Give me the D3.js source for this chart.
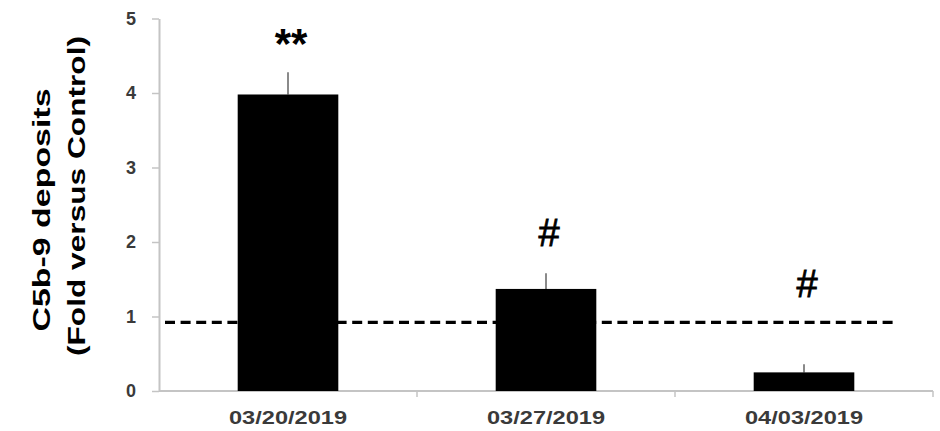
<!DOCTYPE html>
<html>
<head>
<meta charset="utf-8">
<script src="https://cdn.jsdelivr.net/npm/d3@7"></script>
<style>
  html, body { margin: 0; padding: 0; background: #fff; }
  svg { display: block; }
  text { font-family: "Liberation Sans", Arial, sans-serif; }
</style>
</head>
<body>
<svg id="chart" width="940" height="431"></svg>
<script>
// ---- data ----
const categories = ["03/20/2019", "03/27/2019", "04/03/2019"];
const values = [3.98, 1.37, 0.25];
const errors = [0.30, 0.21, 0.11];
const annotations = ["**", "#", "#"];
const annotationLevels = [4.68, 1.94, 1.26];
const yTicks = [0, 1, 2, 3, 4, 5];
const controlLevel = 0.92;
const yLabelLines = ["C5b-9 deposits", "(Fold versus Control)"];

// ---- layout ----
const svg = d3.select("#chart");
const x = d3.scaleBand().domain(categories).range([159, 933])
  .paddingInner(0.61).paddingOuter(0.305);
const y = d3.scaleLinear().domain([0, 5]).range([391, 18.5]);
const axisColor = "#c4c4c4";
const labelColor = "#3a3a3a";

// y axis
const yAxis = svg.append("g").attr("transform", `translate(${x.range()[0]},0)`)
  .call(d3.axisLeft(y).tickValues(yTicks).tickFormat(d3.format("d"))
    .tickSize(7).tickPadding(16).tickSizeOuter(0));
yAxis.select(".domain").attr("stroke", axisColor).attr("stroke-width", 2);
yAxis.selectAll(".tick line").attr("stroke", axisColor).attr("stroke-width", 1.5);
yAxis.selectAll(".tick text").attr("fill", labelColor)
  .style("font-size", "18px").style("font-weight", "bold");

// x axis (line + boundary ticks)
const step = x.step();
const gap = step - x.bandwidth();
const boundaries = categories.map(c => x(c) - gap / 2).concat([x(categories[categories.length - 1]) + x.bandwidth() + gap / 2]);
const xAxisG = svg.append("g");
xAxisG.append("line")
  .attr("x1", x.range()[0]).attr("x2", x.range()[1])
  .attr("y1", y(0)).attr("y2", y(0))
  .attr("stroke", axisColor).attr("stroke-width", 2);
xAxisG.selectAll("line.tk").data(boundaries.slice(1)).join("line")
  .attr("class", "tk")
  .attr("x1", d => d).attr("x2", d => d)
  .attr("y1", y(0)).attr("y2", y(0) + 6)
  .attr("stroke", axisColor).attr("stroke-width", 1.5);
xAxisG.selectAll("text").data(categories).join("text")
  .attr("x", d => x(d) + x.bandwidth() / 2)
  .attr("y", 424)
  .attr("text-anchor", "middle")
  .attr("fill", labelColor)
  .attr("textLength", 118)
  .attr("lengthAdjust", "spacingAndGlyphs")
  .style("font-size", "18px").style("font-weight", "bold")
  .text(d => d);

// dashed control line
svg.append("line")
  .attr("x1", x.range()[0] + 6)
  .attr("x2", boundaries[boundaries.length - 1] - 38)
  .attr("y1", y(controlLevel)).attr("y2", y(controlLevel))
  .attr("stroke", "#000").attr("stroke-width", 3.2)
  .attr("stroke-dasharray", "10,5.6");

// error bars (upper only)
svg.selectAll("line.err").data(categories).join("line")
  .attr("class", "err")
  .attr("x1", d => x(d) + x.bandwidth() / 2)
  .attr("x2", d => x(d) + x.bandwidth() / 2)
  .attr("y1", (d, i) => y(values[i]))
  .attr("y2", (d, i) => y(values[i] + errors[i]))
  .attr("stroke", "#8a8a8a").attr("stroke-width", 2);

// bars
svg.selectAll("rect.bar").data(categories).join("rect")
  .attr("class", "bar")
  .attr("x", d => x(d))
  .attr("width", x.bandwidth())
  .attr("y", (d, i) => y(values[i]))
  .attr("height", (d, i) => y(0) - y(values[i]))
  .attr("fill", "#000");

// significance annotations
svg.selectAll("text.ann").data(categories).join("text")
  .attr("class", "ann")
  .attr("x", d => x(d) + x.bandwidth() / 2 + 3)
  .attr("y", (d, i) => annotations[i] === "**" ? y(annotationLevels[i]) + 16 : y(annotationLevels[i]))
  .attr("text-anchor", "middle")
  .attr("fill", "#000")
  .style("font-size", (d, i) => annotations[i] === "**" ? "42px" : "38px")
  .style("font-weight", (d, i) => annotations[i] === "**" ? "bold" : "normal")
  .style("stroke", "#000")
  .style("stroke-width", (d, i) => annotations[i] === "**" ? 0 : 0.8)
  .text((d, i) => annotations[i]);

// y label
const yl = svg.append("g");
yl.append("text")
  .attr("transform", "translate(50,210) rotate(-90)")
  .attr("text-anchor", "middle")
  .attr("fill", "#000")
  .attr("textLength", 243).attr("lengthAdjust", "spacingAndGlyphs")
  .style("font-size", "24px").style("font-weight", "bold")
  .text(yLabelLines[0]);
yl.append("text")
  .attr("transform", "translate(85,196) rotate(-90)")
  .attr("text-anchor", "middle")
  .attr("fill", "#000")
  .attr("textLength", 320).attr("lengthAdjust", "spacingAndGlyphs")
  .style("font-size", "24px").style("font-weight", "bold")
  .text(yLabelLines[1]);
</script>
</body>
</html>
